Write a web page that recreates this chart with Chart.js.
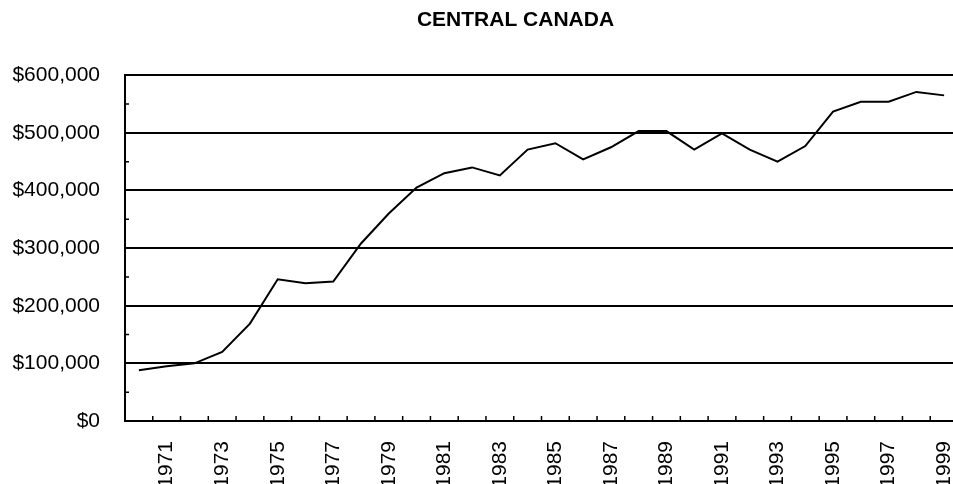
<!DOCTYPE html>
<html>
<head>
<meta charset="utf-8">
<script src="https://cdn.jsdelivr.net/npm/chart.js@4"></script>
<style>
  html, body { margin: 0; padding: 0; background: #fff; overflow: hidden; }
  #wrap { position: relative; width: 1031px; height: 484px; }
</style>
</head>
<body>
<div id="wrap"><canvas id="myChart"></canvas></div>
<script>
// Data for the chart
var years = ["1970", "1971", "1972", "1973", "1974", "1975", "1976", "1977", "1978", "1979",
             "1980", "1981", "1982", "1983", "1984", "1985", "1986", "1987", "1988", "1989",
             "1990", "1991", "1992", "1993", "1994", "1995", "1996", "1997", "1998", "1999"];
var values = [88000, 95000, 100000, 120000, 169000, 246000, 239000, 242000, 308000, 360000,
              405000, 430000, 440000, 426000, 471000, 482000, 454000, 475000, 503000, 503000,
              471000, 499000, 471000, 450000, 477000, 537000, 554000, 554000, 571000, 565000];
var yMin = 0;
var yMax = 600000;
var yStep = 100000;
var yMinorStep = 50000;

var tickFont = { family: "'Liberation Sans', Arial, sans-serif", size: 21 };

// little tick marks drawn inside the plot, like the old spreadsheet chart
var innerTicks = {
  id: "innerTicks",
  afterDatasetsDraw: function (chart) {
    var ctx = chart.ctx;
    var x = chart.scales.x;
    var y = chart.scales.y;
    var area = chart.chartArea;
    ctx.save();
    ctx.strokeStyle = "#000";
    ctx.lineWidth = 1.5;
    ctx.beginPath();
    // x ticks sit between the categories
    for (var i = 0; i < years.length - 1; i++) {
      var px = (x.getPixelForValue(i) + x.getPixelForValue(i + 1)) / 2;
      ctx.moveTo(px, area.bottom);
      ctx.lineTo(px, area.bottom - 5);
    }
    // minor y ticks
    for (var v = yMinorStep; v < yMax; v += yStep) {
      var py = y.getPixelForValue(v);
      ctx.moveTo(area.left, py);
      ctx.lineTo(area.left + 4, py);
    }
    ctx.stroke();
    ctx.restore();
  }
};

var config = {
  type: "line",
  data: {
    labels: years,
    datasets: [{
      label: "Central Canada",
      data: values,
      borderColor: "#000",
      borderWidth: 2,
      pointRadius: 0,
      tension: 0,
      fill: false
    }]
  },
  options: {
    responsive: true,
    maintainAspectRatio: false,
    animation: false,
    layout: { padding: 0 },
    scales: {
      x: {
        offset: true,
        grid: { display: false, drawTicks: false },
        border: { display: true, color: "#000", width: 2 },
        ticks: {
          color: "#000",
          font: tickFont,
          minRotation: 90,
          maxRotation: 90,
          autoSkip: false,
          padding: 20,
          callback: function (val, idx) {
            var yr = parseInt(years[idx], 10);
            return yr % 2 === 1 ? years[idx] : "";
          }
        },
        afterFit: function (scale) { scale.height = 63; }
      },
      y: {
        min: yMin,
        max: yMax,
        grid: { color: "#000", lineWidth: 2, drawTicks: false },
        border: { display: true, color: "#000", width: 2 },
        ticks: {
          stepSize: yStep,
          color: "#000",
          font: tickFont,
          padding: 25,
          callback: function (v) {
            return "$" + v.toLocaleString("en-US");
          }
        },
        afterFit: function (scale) { scale.width = 125; }
      },
      // empty right-hand strip: the plot runs past the picture's right edge
      yRight: {
        position: "right",
        min: yMin,
        max: yMax,
        grid: { display: false, drawTicks: false },
        border: { display: false },
        ticks: { display: false },
        afterFit: function (scale) { scale.width = 73; }
      }
    },
    plugins: {
      legend: { display: false },
      tooltip: { enabled: false },
      title: {
        display: true,
        text: "CENTRAL CANADA",
        color: "#000",
        font: { family: "'Liberation Sans', Arial, sans-serif", size: 21, weight: "bold" },
        padding: { top: 8, bottom: 42 }
      }
    }
  },
  plugins: [innerTicks]
};

var ctx = document.getElementById("myChart").getContext("2d");
var myChart = new Chart(ctx, config);
</script>
</body>
</html>
